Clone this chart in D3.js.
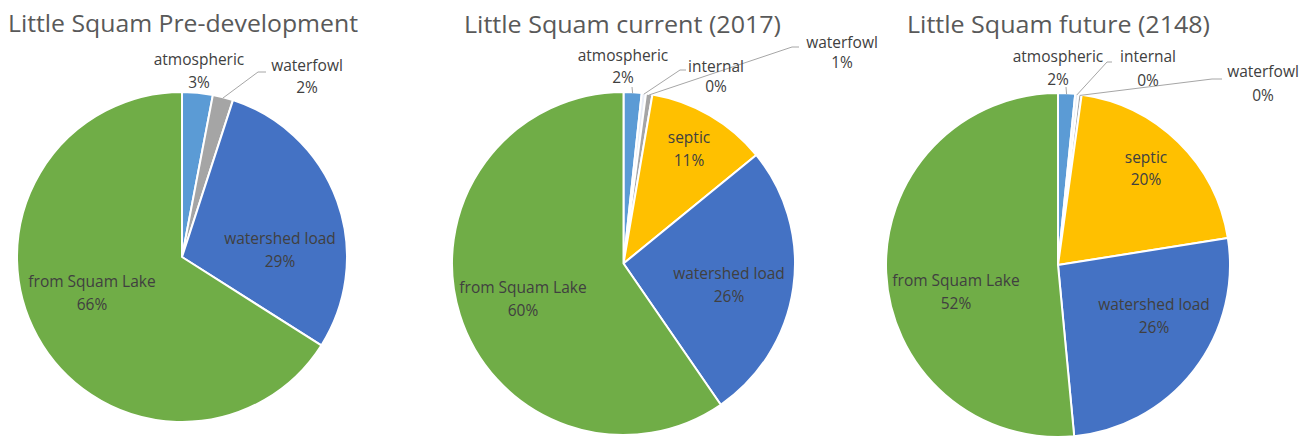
<!DOCTYPE html>
<html>
<head>
<meta charset="utf-8">
<script src="https://d3js.org/d3.v7.min.js"></script>
<style>
body { margin: 0; background: #fff; }
text { font-family: "Open Sans", "Noto Sans", sans-serif; }
</style>
</head>
<body>
<svg id="pies" width="1311" height="437"></svg>
<script>
// chart data
const categories = ["atmospheric", "internal", "waterfowl", "septic", "watershed load", "from Squam Lake"];
const titles = ["Little Squam Pre-development", "Little Squam current (2017)", "Little Squam future (2148)"];
const preValues = [3, 0, 2, 0, 29, 66];
const currentValues = [1.7, 0.4, 0.6, 11.4, 26.3, 59.6];
const futureValues = [1.6, 0.3, 0.3, 20.3, 26.0, 51.5];
const seriesValues = [preValues, currentValues, futureValues];

// styling / layout
const colors = d3.scaleOrdinal()
  .domain(categories)
  .range(["#5B9BD5", "#E9EEF7", "#A5A5A5", "#FFC000", "#4472C4", "#70AD47"]);

const pieLayout = [
  {cx: 182, cy: 257, r: 165, title: {x: 8, w: 350, y: 32}},
  {cx: 623.5, cy: 263.5, r: 171.5, title: {x: 464, w: 317, y: 33}},
  {cx: 1058, cy: 265, r: 172, title: {x: 907, w: 303, y: 33}}
];

// label positions: name centre (x,y), value centre y, optional leader polyline points
const labelLayout = [
  {
    "atmospheric": {x: 199, y: 60, vy: 83},
    "waterfowl": {x: 307, y: 66, vy: 88, leader: [[258, 72], [266, 72]]},
    "watershed load": {x: 280, y: 239, vy: 262},
    "from Squam Lake": {x: 92, y: 282, vy: 305}
  },
  {
    "atmospheric": {x: 623, y: 56, vy: 78, leader: [[632, 87]]},
    "internal": {x: 716, y: 67, vy: 87, leader: [[680, 70], [686, 70]]},
    "waterfowl": {x: 842, y: 43, vy: 63, leader: [[792, 47], [799, 47]]},
    "septic": {x: 689, y: 138, vy: 161},
    "watershed load": {x: 729, y: 274, vy: 297},
    "from Squam Lake": {x: 523, y: 288, vy: 311}
  },
  {
    "atmospheric": {x: 1058, y: 57, vy: 80, leader: [[1066, 87]]},
    "internal": {x: 1148, y: 57, vy: 81, leader: [[1107, 62], [1112, 62]]},
    "waterfowl": {x: 1263, y: 72, vy: 96, leader: [[1212, 79], [1222, 79]]},
    "septic": {x: 1146, y: 158, vy: 180},
    "watershed load": {x: 1154, y: 305, vy: 328},
    "from Squam Lake": {x: 956, y: 281, vy: 304}
  }
];

const svg = d3.select("#pies");

const pieGen = d3.pie()
  .sort(null)
  .value(d => d.value);

seriesValues.forEach((values, i) => {
  let lay = pieLayout[i];
  let rows = categories.map((c, j) => ({name: c, value: values[j]}));
  let total = d3.sum(values);
  let arcs = pieGen(rows).filter(d => d.data.value > 0);

  let arcGen = d3.arc().innerRadius(0).outerRadius(lay.r);

  // title
  svg.append("text")
    .attr("x", lay.title.x)
    .attr("y", lay.title.y)
    .attr("textLength", lay.title.w)
    .attr("lengthAdjust", "spacingAndGlyphs")
    .attr("font-size", 24)
    .attr("fill", "#595959")
    .text(titles[i]);

  let g = svg.append("g")
    .attr("transform", "translate(" + lay.cx + "," + lay.cy + ")");

  g.selectAll("path")
    .data(arcs)
    .join("path")
    .attr("d", arcGen)
    .attr("fill", d => colors(d.data.name))
    .attr("stroke", "#fff")
    .attr("stroke-width", 2)
    .attr("stroke-linejoin", "round");

  // leader lines from slice edge to label
  let labels = labelLayout[i];
  arcs.forEach(d => {
    let l = labels[d.data.name];
    if (!l || !l.leader) return;
    let mid = (d.startAngle + d.endAngle) / 2;
    let start = [lay.cx + (lay.r - 1) * Math.sin(mid), lay.cy - (lay.r - 1) * Math.cos(mid)];
    svg.append("polyline")
      .attr("points", [start].concat(l.leader).map(p => p.join(",")).join(" "))
      .attr("fill", "none")
      .attr("stroke", "#A6A6A6")
      .attr("stroke-width", 1);
  });

  // data labels
  arcs.forEach(d => {
    let l = labels[d.data.name];
    if (!l) return;
    let pct = Math.round(d.data.value / total * 100) + "%";
    svg.append("text")
      .attr("x", l.x)
      .attr("y", l.y)
      .attr("dy", "0.35em")
      .attr("text-anchor", "middle")
      .attr("font-size", 15.5)
      .attr("fill", "#404040")
      .text(d.data.name);
    svg.append("text")
      .attr("x", l.x)
      .attr("y", l.vy)
      .attr("dy", "0.35em")
      .attr("text-anchor", "middle")
      .attr("font-size", 15.5)
      .attr("fill", "#404040")
      .text(pct);
  });
});
</script>
</body>
</html>
